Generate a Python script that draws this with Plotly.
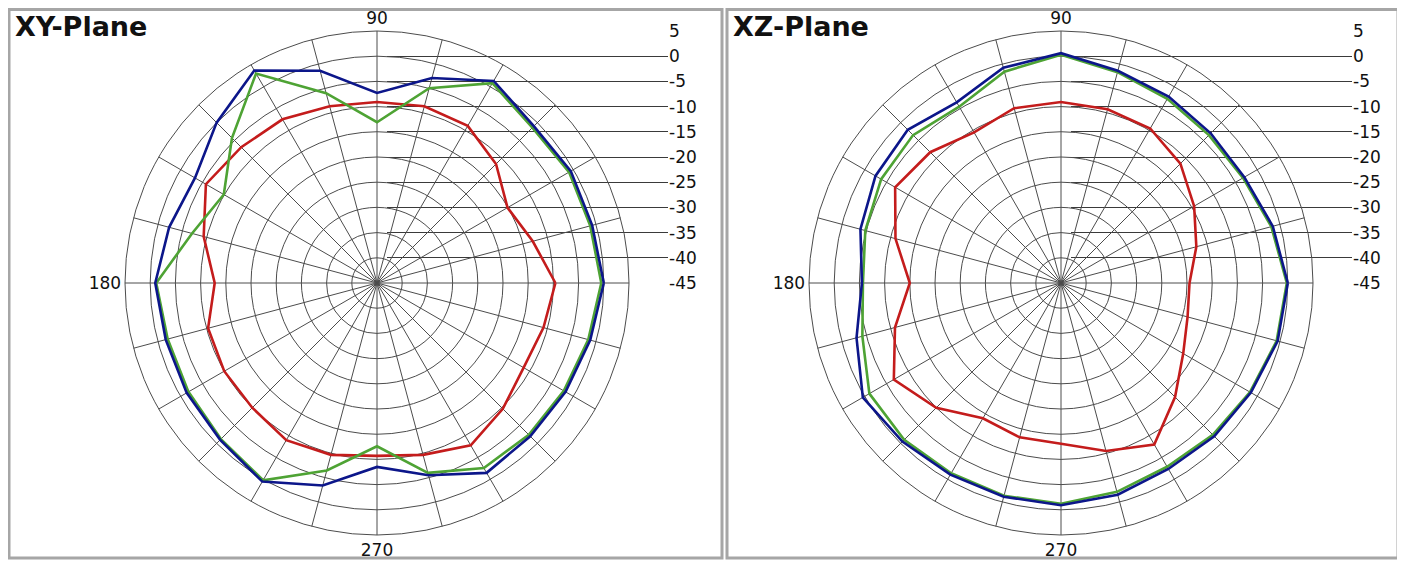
import plotly.graph_objects as go

# angles (deg) and dB values, 15 deg steps
angles = [0, 15, 30, 45, 60, 75, 90, 105, 120, 135, 150, 165,
          180, 195, 210, 225, 240, 255, 270, 285, 300, 315, 330, 345]

xy_blue = [0.0, -0.8, -0.6, -1.0, 1.3, -2.9, -7.3, -1.4, 3.7, 0.0, -3.3, -2.3,
           -1.0, -1.6, -1.4, -1.0, 0.5, -3.4, -8.5, -5.5, -1.5, -2.0, -1.8, -1.2]
xy_green = [-0.5, -1.2, -1.0, -1.4, 0.8, -5.0, -13.1, -6.0, 3.0, -4.3, -9.9, -7.0,
            -1.2, -2.0, -1.8, -1.2, 0.2, -6.5, -12.6, -6.0, -2.6, -2.4, -2.2, -1.6]
xy_red = [-9.6, -13.0, -15.1, -11.6, -9.0, -8.7, -9.1, -8.7, -7.5, -6.9, -5.8, -9.4,
          -12.8, -10.3, -10.0, -10.0, -9.0, -9.7, -10.7, -9.7, -7.8, -9.7, -11.4, -10.8]

xz_blue = [0.0, -1.5, -3.0, -3.0, -2.3, -1.4, 0.6, -0.8, -3.6, -2.0, -2.5, -3.8,
           -5.5, -3.0, 0.4, -0.5, -1.1, -1.1, -0.9, -1.5, -2.4, -2.0, -1.5, -0.5]
xz_green = [-0.2, -1.8, -3.3, -3.5, -2.8, -1.7, 0.3, -1.6, -4.6, -3.5, -3.8, -4.8,
            -5.7, -4.2, -1.1, -1.0, -1.4, -1.3, -1.2, -2.1, -2.9, -2.4, -1.7, -0.7]
xz_red = [-19.5, -17.2, -14.5, -11.5, -9.6, -9.3, -9.1, -9.1, -10.5, -8.3, -7.0, -11.0,
          -15.0, -10.9, -6.7, -10.0, -14.0, -13.3, -13.1, -10.5, -8.0, -13.0, -17.0, -19.0]

angle_text = ['', '', '', '', '', '', '90', '', '', '', '', '',
              '180', '', '', '', '', '', '270', '', '', '', '', '']
radial_ticks = [5, 0, -5, -10, -15, -20, -25, -30, -35, -40, -45]
radial_text = ['5', '0', '-5', '-10', '-15', '-20', '-25', '-30', '-35', '-40', '-45']

titles = ['XY-Plane', 'XZ-Plane']
colors = {'red': '#c41c1c', 'green': '#4ea334', 'blue': '#0c168a'}

# the page body adds 8px around the figure, so the figure is 8px smaller
# and every pixel position below is already shifted by -8
W, H = 1397, 554
R = 252           # polar radius in px
CY = 275          # centre y in px (from top)
centres = [369, 1053]
label_x = [660, 1344]
grid = '#4c4c4c'

fig = go.Figure()

panels = [(xy_red, xy_green, xy_blue), (xz_red, xz_green, xz_blue)]
for i, (red, green, blue) in enumerate(panels):
    sub = 'polar' if i == 0 else 'polar2'
    for vals, c in [(red, 'red'), (green, 'green'), (blue, 'blue')]:
        fig.add_trace(go.Scatterpolar(
            r=vals + vals[:1], theta=angles + angles[:1], mode='lines',
            line=dict(color=colors[c], width=2.6), subplot=sub,
            showlegend=False, hoverinfo='skip'))
    # empty cartesian trace carrying the right-hand dB scale
    fig.add_trace(go.Scatter(x=[None], y=[None], xaxis='x' if i == 0 else 'x2',
                             yaxis='y' if i == 0 else 'y2', showlegend=False))

polar_common = dict(
    bgcolor='rgba(0,0,0,0)',
    radialaxis=dict(range=[-45, 5], tickvals=radial_ticks, showticklabels=False,
                    ticks='', showline=False, gridcolor=grid, gridwidth=1),
    angularaxis=dict(tickvals=angles, ticktext=angle_text, ticks='',
                     showline=True, linecolor=grid, linewidth=1,
                     gridcolor=grid, gridwidth=1,
                     tickfont=dict(family='DejaVu Sans', size=17, color='#111')),
)

layout = dict(width=W, height=H, margin=dict(l=0, r=0, t=0, b=0, autoexpand=False),
              paper_bgcolor='white', plot_bgcolor='rgba(0,0,0,0)', showlegend=False)

ydom = [(H - CY) / H, (H - CY + R) / H]
for i, cx in enumerate(centres):
    sfx = '' if i == 0 else '2'
    layout['polar' + sfx] = dict(
        domain=dict(x=[(cx - R) / W, (cx + R) / W], y=[(H - CY - R) / H, (H - CY + R) / H]),
        **polar_common)
    layout['xaxis' + sfx] = dict(domain=[(cx + 10) / W, label_x[i] / W], range=[0, 1],
                                 visible=False, anchor='y' + sfx)
    layout['yaxis' + sfx] = dict(domain=ydom, range=[-45, 5], anchor='x' + sfx, side='right',
                                 tickvals=radial_ticks, ticktext=radial_text,
                                 showgrid=True, gridcolor='#3a3a3a', gridwidth=1,
                                 zeroline=False, showline=False, ticks='',
                                 ticklabelstandoff=0, automargin=False,
                                 tickfont=dict(family='DejaVu Sans', size=17, color='#111'))

fig.update_layout(**layout)

# panel frames and titles
frames = [(1, 714), (719, 1390)]
for (x0, x1), t in zip(frames, titles):
    fig.add_shape(type='rect', xref='paper', yref='paper',
                  x0=x0 / W, x1=x1 / W, y0=4 / H, y1=1 - 1.5 / H,
                  line=dict(color='#a6a6a6', width=3), layer='below')
    fig.add_annotation(text=t, xref='paper', yref='paper', x=(x0 + 4) / W, y=1 - 1 / H,
                       xanchor='left', yanchor='top', showarrow=False,
                       font=dict(family='DejaVu Sans', size=27, color='#111', weight='bold'))

fig.write_html("out.html")
